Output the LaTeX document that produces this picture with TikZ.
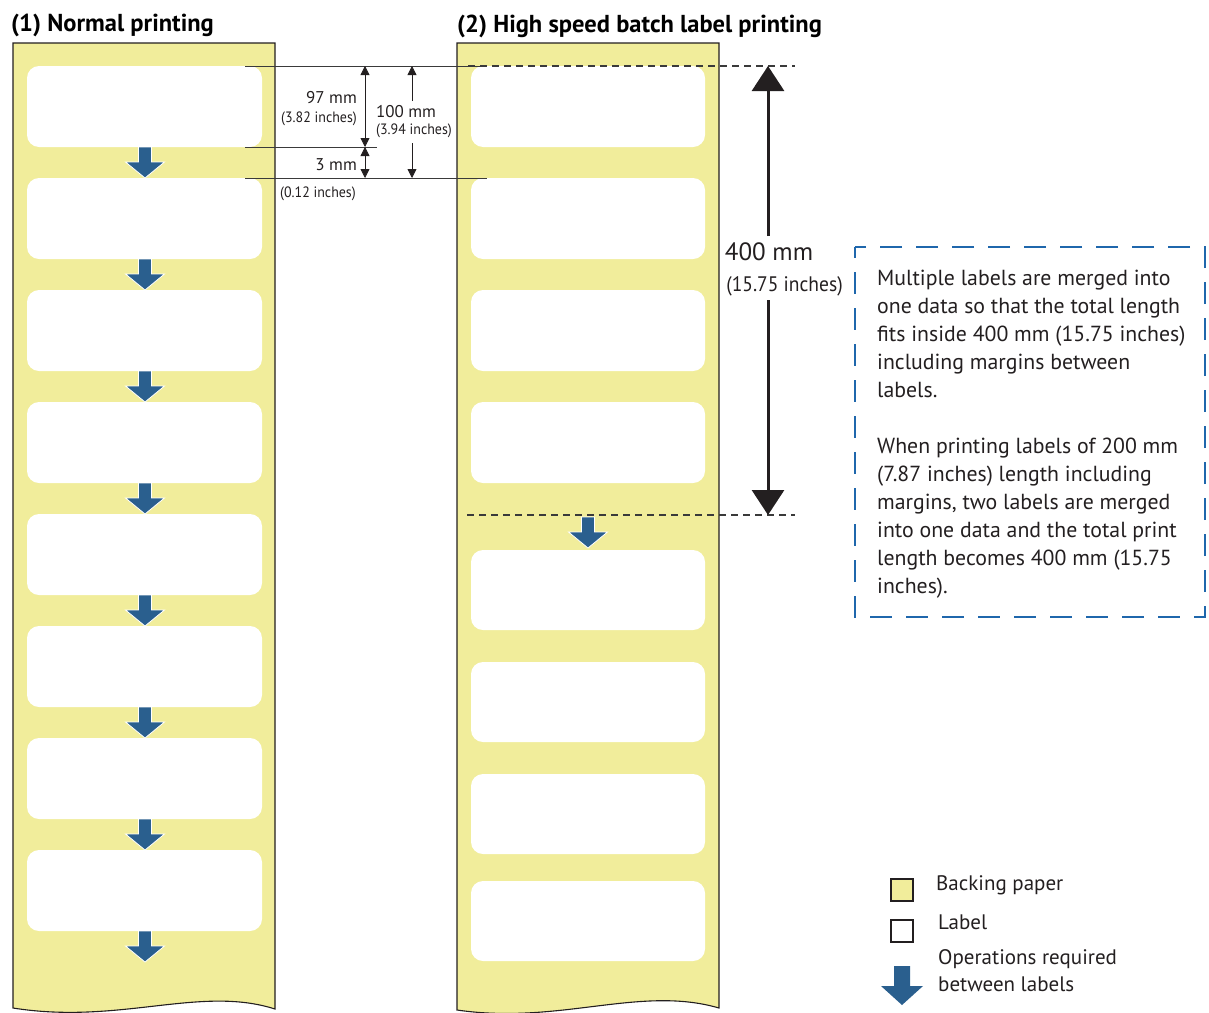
\documentclass[tikz,border=0pt]{standalone}
\usepackage{fontspec}
\setmainfont{PT Sans}
\usetikzlibrary{arrows.meta}
\definecolor{backing}{HTML}{F1ED9B}
\definecolor{opblue}{HTML}{2A5F8E}
\definecolor{boxblue}{HTML}{1F67AC}
\definecolor{ink}{HTML}{231F20}
\definecolor{dimgray}{HTML}{3A3A3A}
\tikzset{
  strip/.style={fill=backing, draw=ink, line width=1.1},
  labelbox/.style={fill=white, rounded corners=12},
  extline/.style={draw=dimgray, line width=0.8},
  dimline/.style={draw=ink, line width=0.8, {Triangle[width=9,length=9]}-{Triangle[width=9,length=9]}},
  dimtxt/.style={font=\fontsize{17}{19}\selectfont, text=ink, inner sep=0},
  dimsmall/.style={font=\fontsize{15}{17}\selectfont, text=ink, inner sep=0, xscale=0.93},
  headtxt/.style={font=\fontsize{24.5}{28}\selectfont\bfseries, text=black, inner sep=0, anchor=base west},
  legtxt/.style={font=\fontsize{21}{27}\selectfont, text=ink, inner sep=0, anchor=base west, align=left},
  opar/.pic={\fill[opblue, draw=white, line width=0.8] (-6.5,0) -- (6.5,0) -- (6.5,15) -- (19.5,15) -- (0,31) -- (-19.5,15) -- (-6.5,15) -- cycle;}
}
\begin{document}
\begin{tikzpicture}[x=1pt,y=-1pt]
\useasboundingbox (0,0) rectangle (1209,1012);

% headings
\node[headtxt] (h1) at (11,31) {(1) Normal printing};
\node[headtxt] (h2) at (457,32) {(2) High speed batch label printing};

% strips
\path[strip] (13,43) -- (275,43) -- (275,1009) .. controls (200,985) and (120,1025) .. (13,1008) -- cycle;
\path[strip] (457,43) -- (719,43) -- (719,1008) .. controls (640,985) and (560,1025) .. (457,1010) -- cycle;

% left labels and arrows
\foreach \k in {0,...,7}{
  \fill[labelbox] (27,66+112*\k) rectangle (262,147+112*\k);
  \pic at (145,147+112*\k) {opar};
}
% right labels
\foreach \t in {66,178,290,402}{
  \fill[labelbox] (471,\t) rectangle (705,\t+81);
}
\foreach \t in {550,662,774,881}{
  \fill[labelbox] (471,\t) rectangle (705,\t+80);
}
\pic at (588,517) {opar};

% extension lines
\coordinate (e1a) at (245,66);  \coordinate (e1b) at (485,66);
\coordinate (e2a) at (245,147); \coordinate (e2b) at (377,147);
\coordinate (e3a) at (245,178); \coordinate (e3b) at (487,178);
\draw[extline] (e1a) -- (e1b);
\draw[extline] (e2a) -- (e2b);
\draw[extline] (e3a) -- (e3b);

% dimension arrows
\coordinate (d97t) at (365,66);  \coordinate (d97b) at (365,147);
\coordinate (d3t) at (365,147);  \coordinate (d3b) at (365,178);
\draw[dimline] (d97t) -- (d97b);
\draw[dimline] (d3t) -- (d3b);
\coordinate (d100t) at (412,66); \coordinate (d100u) at (412,101);
\coordinate (d100l) at (412,143); \coordinate (d100b) at (412,178);
\draw[draw=ink, line width=0.8, -{Triangle[width=9,length=9]}] (d100u) -- (d100t);
\draw[draw=ink, line width=0.8, -{Triangle[width=9,length=9]}] (d100l) -- (d100b);

\node[dimtxt, anchor=base east] (t97) at (357,103) {97 mm};
\node[dimsmall, anchor=base east] (t382) at (357,122) {(3.82 inches)};
\node[dimtxt, anchor=base east] (t3) at (357,170) {3 mm};
\node[dimsmall, anchor=base west] (t012) at (280,197) {(0.12 inches)};
\node[dimtxt, anchor=base] (t100) at (406,117) {100 mm};
\node[dimsmall, anchor=base] (t394) at (414,134) {(3.94 inches)};

% dashed reference lines
\coordinate (dl1a) at (468,66);  \coordinate (dl1b) at (795,66);
\coordinate (dl2a) at (467,515); \coordinate (dl2b) at (795,515);
\draw[dimgray, line width=1.2, dash pattern=on 7 off 5] (dl1a) -- (dl1b);
\draw[dimgray, line width=1.2, dash pattern=on 7 off 5] (dl2a) -- (dl2b);

% 400 mm arrow
\coordinate (b400t) at (768,66); \coordinate (b400u) at (768,236);
\coordinate (b400l) at (768,300); \coordinate (b400b) at (768,515);
\draw[ink, line width=3, -{Triangle[width=32,length=25]}] (b400u) -- (b400t);
\draw[ink, line width=3, -{Triangle[width=32,length=25]}] (b400l) -- (b400b);
\node[font=\fontsize{25}{28}\selectfont, text=ink, inner sep=0, anchor=base] (t400) at (769,260) {400 mm};
\node[font=\fontsize{21}{24}\selectfont, text=ink, inner sep=0, anchor=base, xscale=0.93] (t1575) at (784.5,291) {(15.75 inches)};

% explanation box
\draw[boxblue, line width=2.5, dash pattern=on 22 off 14, dash phase=11] (855,247) rectangle (1205,617);
\node[font=\fontsize{21.8}{28}\selectfont, text=ink, inner sep=0, anchor=base west, align=left] (expl) at (877,593)
{Multiple labels are merged into\\one data so that the total length\\fits inside 400 mm (15.75 inches)\\including margins between\\labels.\\[28pt]When printing labels of 200 mm\\(7.87 inches) length including\\margins, two labels are merged\\into one data and the total print\\length becomes 400 mm (15.75\\inches).};

% legend
\draw[fill=backing, draw=ink, line width=1.8] (891,879) rectangle (913,901);
\draw[fill=white, draw=ink, line width=1.8] (891,920) rectangle (913,942);
\fill[opblue] (894,966) -- (910,966) -- (910,986) -- (923,986) -- (902,1005) -- (881,986) -- (894,986) -- cycle;
\node[legtxt] (lg1) at (936,890) {Backing paper};
\node[legtxt] (lg2) at (938,929) {Label};
\node[legtxt] (lg3) at (938,991) {Operations required\\between labels};
\end{tikzpicture}
\end{document}
